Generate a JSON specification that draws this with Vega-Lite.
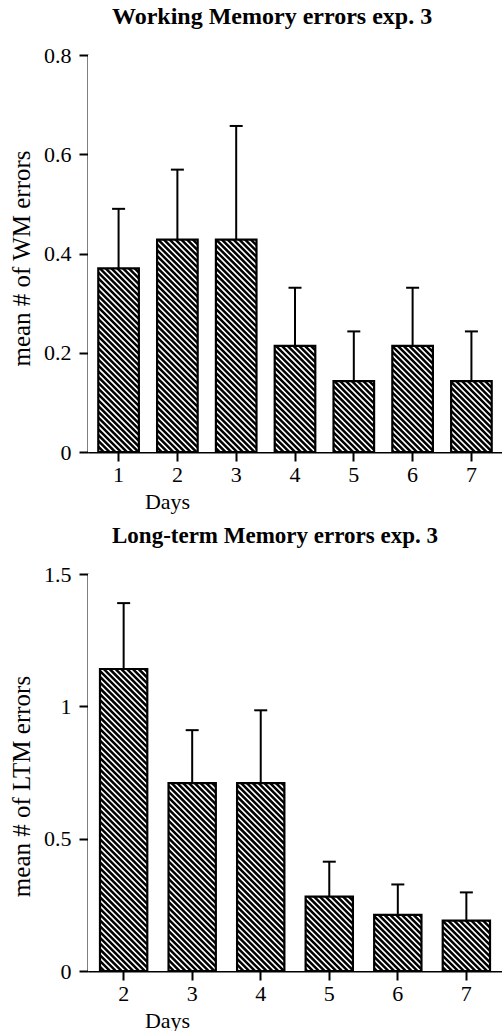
{
  "$schema": "https://vega.github.io/schema/vega-lite/v6.json",
  "background": "white",
  "padding": {"left": 9, "top": 5, "right": 0, "bottom": 0},
  "bounds": "flush",
  "spacing": 122,
  "config": {
    "font": "Liberation Serif",
    "view": {"stroke": null},
    "scale": {"bandPaddingInner": 0, "barBandPaddingInner": 0, "bandPaddingOuter": 0.02},
    "axis": {
      "domainColor": "black", "domainWidth": 2, "tickColor": "black", "tickWidth": 2, "tickSize": 9,
      "labelColor": "black", "labelFont": "Liberation Serif", "labelFontSize": 22,
      "titleColor": "black", "titleFont": "Liberation Serif", "titleFontSize": 22, "titleFontWeight": "normal",
      "grid": false
    },
    "axisY": {"labelPadding": 8, "titleAngle": 270, "titleBaseline": "alphabetic", "titleAlign": "center", "titleX": -59, "titleFontSize": 25},
    "axisX": {"labelAngle": 0, "labelPadding": 3, "titleBaseline": "alphabetic", "titleAlign": "center", "titleX": 79, "titleY": 56},
    "title": {"font": "Liberation Serif", "fontSize": 24, "fontWeight": "bold", "color": "black", "anchor": "start", "frame": "group", "dx": 24, "baseline": "alphabetic", "offset": 15},
    "point": {
      "shape": "M-3,-1l2,2m-1.9768,-2l2,2m-1.9768,-2l2,2m-1.9768,-2l2,2m-1.9768,-2l2,2m-1.9768,-2l2,2m-1.9768,-2l2,2m-1.9768,-2l2,2m-1.9768,-2l2,2m-1.9768,-2l2,2m-1.9768,-2l2,2m-1.9768,-2l2,2m-1.9768,-2l2,2m-1.9768,-2l2,2m-1.9768,-2l2,2m-1.9768,-2l2,2m-1.9768,-2l2,2m-1.9768,-2l2,2m-1.9768,-2l2,2m-1.9768,-2l2,2m-1.9768,-2l2,2m-1.9768,-2l2,2m-1.9768,-2l2,2m-1.9768,-2l2,2m-1.9768,-2l2,2m-1.9768,-2l2,2m-1.9768,-2l2,2m-1.9768,-2l2,2m-1.9768,-2l2,2m-1.9768,-2l2,2m-1.9768,-2l2,2m-1.9768,-2l2,2m-1.9768,-2l2,2m-1.9768,-2l2,2m-1.9768,-2l2,2m-1.9768,-2l2,2m-1.9768,-2l2,2m-1.9768,-2l2,2m-1.9768,-2l2,2m-1.9768,-2l2,2m-1.9768,-2l2,2m-1.9768,-2l2,2m-1.9768,-2l2,2m-1.9768,-2l2,2m-1.9768,-2l2,2m-1.9768,-2l2,2m-1.9768,-2l2,2m-1.9768,-2l2,2m-1.9768,-2l2,2m-1.9768,-2l2,2m-1.9768,-2l2,2m-1.9768,-2l2,2m-1.9768,-2l2,2m-1.9768,-2l2,2m-1.9768,-2l2,2m-1.9768,-2l2,2m-1.9768,-2l2,2m-1.9768,-2l2,2m-1.9768,-2l2,2m-1.9768,-2l2,2m-1.9768,-2l2,2m-1.9768,-2l2,2m-1.9768,-2l2,2m-1.9768,-2l2,2m-1.9768,-2l2,2m-1.9768,-2l2,2m-1.9768,-2l2,2m-1.9768,-2l2,2m-1.9768,-2l2,2m-1.9768,-2l2,2m-1.9768,-2l2,2m-1.9768,-2l2,2m-1.9768,-2l2,2m-1.9768,-2l2,2m-1.9768,-2l2,2m-1.9768,-2l2,2m-1.9768,-2l2,2m-1.9768,-2l2,2m-1.9768,-2l2,2m-1.9768,-2l2,2m-1.9768,-2l2,2m-1.9768,-2l2,2m-1.9768,-2l2,2m-1.9768,-2l2,2m-1.9768,-2l2,2m-1.9768,-2l2,2m-1.9768,-2l2,2m-1.9768,-2l2,2m-1.9768,-2l2,2m-1.9768,-2l2,2m-1.9768,-2l2,2m-1.9768,-2l2,2m-1.9768,-2l2,2m-1.9768,-2l2,2m-1.9768,-2l2,2m-1.9768,-2l2,2m-1.9768,-2l2,2m-1.9768,-2l2,2m-1.9768,-2l2,2m-1.9768,-2l2,2m-1.9768,-2l2,2m-1.9768,-2l2,2m-1.9768,-2l2,2m-1.9768,-2l2,2m-1.9768,-2l2,2m-1.9768,-2l2,2m-1.9768,-2l2,2m-1.9768,-2l2,2m-1.9768,-2l2,2m-1.9768,-2l2,2m-1.9768,-2l2,2m-1.9768,-2l2,2m-1.9768,-2l2,2m-1.9768,-2l2,2m-1.9768,-2l2,2m-1.9768,-2l2,2m-1.9768,-2l2,2m-1.9768,-2l2,2m-1.9768,-2l2,2m-1.9768,-2l2,2m-1.9768,-2l2,2m-1.9768,-2l2,2m-1.9768,-2l2,2m-1.9768,-2l2,2m-1.9768,-2l2,2m-1.9768,-2l2,2m-1.9768,-2l2,2m-1.9768,-2l2,2m-1.9768,-2l2,2m-1.9768,-2l2,2m-1.9768,-2l2,2m-1.9768,-2l2,2m-1.9768,-2l2,2m-1.9768,-2l2,2m-1.9768,-2l2,2m-1.9768,-2l2,2m-1.9768,-2l2,2m-1.9768,-2l2,2m-1.9768,-2l2,2m-1.9768,-2l2,2m-1.9768,-2l2,2m-1.9768,-2l2,2m-1.9768,-2l2,2m-1.9768,-2l2,2m-1.9768,-2l2,2m-1.9768,-2l2,2m-1.9768,-2l2,2m-1.9768,-2l2,2m-1.9768,-2l2,2m-1.9768,-2l2,2m-1.9768,-2l2,2m-1.9768,-2l2,2m-1.9768,-2l2,2m-1.9768,-2l2,2m-1.9768,-2l2,2m-1.9768,-2l2,2m-1.9768,-2l2,2m-1.9768,-2l2,2m-1.9768,-2l2,2m-1.9768,-2l2,2m-1.9768,-2l2,2m-1.9768,-2l2,2m-1.9768,-2l2,2m-1.9768,-2l2,2m-1.9768,-2l2,2m-1.9768,-2l2,2m-1.9768,-2l2,2m-1.9768,-2l2,2m-1.9768,-2l2,2m-1.9768,-2l2,2m-1.9768,-2l2,2m-1.9768,-2",
      "size": 250000, "filled": false, "stroke": "black", "strokeWidth": 2.5, "opacity": 1
    }
  },
  "datasets": {
    "wm": [
      {"day": 1, "mean": 0.37, "upper": 0.49},
      {"day": 2, "mean": 0.428, "upper": 0.569},
      {"day": 3, "mean": 0.428, "upper": 0.657},
      {"day": 4, "mean": 0.214, "upper": 0.331},
      {"day": 5, "mean": 0.143, "upper": 0.243},
      {"day": 6, "mean": 0.214, "upper": 0.331},
      {"day": 7, "mean": 0.143, "upper": 0.243}
    ],
    "ltm": [
      {"day": 2, "mean": 1.141, "upper": 1.39},
      {"day": 3, "mean": 0.71, "upper": 0.91},
      {"day": 4, "mean": 0.71, "upper": 0.985},
      {"day": 5, "mean": 0.281, "upper": 0.413},
      {"day": 6, "mean": 0.212, "upper": 0.327},
      {"day": 7, "mean": 0.19, "upper": 0.297}
    ]
  },
  "vconcat": [
    {
      "width": 414, "height": 397,
      "title": {"text": "Working Memory errors exp. 3"},
      "data": {"name": "wm"},
      "layer": [
        {
          "data": {"values": [{}]},
          "mark": {"type": "point", "clip": true, "filled": false, "stroke": "black", "strokeWidth": 2.5, "opacity": 1},
          "encoding": {
            "x": {"datum": 4, "type": "ordinal", "title": "Days"},
            "y": {"datum": 0.4, "type": "quantitative", "scale": {"domain": [0, 0.8], "nice": false}, "title": "mean # of WM errors"}
          }
        },
        {
          "mark": {"type": "bar", "width": {"band": 1}, "fill": "white", "strokeWidth": 0, "clip": true, "opacity": 1},
          "encoding": {
            "x": {"field": "day", "type": "ordinal", "title": "Days"},
            "y": {"field": "mean", "type": "quantitative", "scale": {"domain": [0, 0.8], "nice": false}, "title": "mean # of WM errors"},
            "y2": {"datum": 0.8}
          }
        },
        {
          "mark": {"type": "bar", "width": {"band": 1}, "fill": "white", "fillOpacity": 0, "stroke": "white", "strokeWidth": 18.4, "clip": true, "opacity": 1},
          "encoding": {
            "x": {"field": "day", "type": "ordinal", "title": "Days"},
            "y": {"datum": -0.2, "type": "quantitative", "scale": {"domain": [0, 0.8], "nice": false}, "title": "mean # of WM errors"},
            "y2": {"datum": 1.0}
          }
        },
        {
          "mark": {"type": "bar", "width": {"band": 0.69}, "fill": "white", "fillOpacity": 0, "stroke": "black", "strokeWidth": 2.2, "opacity": 1},
          "encoding": {
            "x": {"field": "day", "type": "ordinal", "title": "Days", "axis": {"labelAngle": 0}},
            "y": {"field": "mean", "type": "quantitative", "scale": {"domain": [0, 0.8], "nice": false}, "title": "mean # of WM errors",
                  "axis": {"values": [0, 0.2, 0.4, 0.6, 0.8], "format": ".1~f", "titleY": 203}}
          }
        },
        {
          "mark": {"type": "rule", "color": "black", "strokeWidth": 2, "opacity": 1},
          "encoding": {
            "x": {"field": "day", "type": "ordinal", "title": "Days"},
            "y": {"field": "mean", "type": "quantitative", "scale": {"domain": [0, 0.8], "nice": false}, "title": "mean # of WM errors"},
            "y2": {"field": "upper"}
          }
        },
        {
          "mark": {"type": "tick", "color": "black", "size": 13, "thickness": 2, "opacity": 1},
          "encoding": {
            "x": {"field": "day", "type": "ordinal", "title": "Days"},
            "y": {"field": "upper", "type": "quantitative", "scale": {"domain": [0, 0.8], "nice": false}, "title": "mean # of WM errors"}
          }
        }
      ]
    },
    {
      "width": 414, "height": 397,
      "title": {"text": "Long-term Memory errors exp. 3", "fontSize": 23},
      "data": {"name": "ltm"},
      "layer": [
        {
          "data": {"values": [{}]},
          "mark": {"type": "point", "clip": true, "filled": false, "stroke": "black", "strokeWidth": 2.5, "opacity": 1},
          "encoding": {
            "x": {"datum": 4, "type": "ordinal", "title": "Days"},
            "y": {"datum": 0.75, "type": "quantitative", "scale": {"domain": [0, 1.5], "nice": false}, "title": "mean # of LTM errors"}
          }
        },
        {
          "mark": {"type": "bar", "width": {"band": 1}, "fill": "white", "strokeWidth": 0, "clip": true, "opacity": 1},
          "encoding": {
            "x": {"field": "day", "type": "ordinal", "title": "Days"},
            "y": {"field": "mean", "type": "quantitative", "scale": {"domain": [0, 1.5], "nice": false}, "title": "mean # of LTM errors"},
            "y2": {"datum": 1.5}
          }
        },
        {
          "mark": {"type": "bar", "width": {"band": 1}, "fill": "white", "fillOpacity": 0, "stroke": "white", "strokeWidth": 21.4, "clip": true, "opacity": 1},
          "encoding": {
            "x": {"field": "day", "type": "ordinal", "title": "Days"},
            "y": {"datum": -0.3, "type": "quantitative", "scale": {"domain": [0, 1.5], "nice": false}, "title": "mean # of LTM errors"},
            "y2": {"datum": 1.8}
          }
        },
        {
          "mark": {"type": "bar", "width": {"band": 0.69}, "fill": "white", "fillOpacity": 0, "stroke": "black", "strokeWidth": 2.2, "opacity": 1},
          "encoding": {
            "x": {"field": "day", "type": "ordinal", "title": "Days", "axis": {"labelAngle": 0}},
            "y": {"field": "mean", "type": "quantitative", "scale": {"domain": [0, 1.5], "nice": false}, "title": "mean # of LTM errors",
                  "axis": {"values": [0, 0.5, 1, 1.5], "format": ".1~f", "titleY": 212}}
          }
        },
        {
          "mark": {"type": "rule", "color": "black", "strokeWidth": 2, "opacity": 1},
          "encoding": {
            "x": {"field": "day", "type": "ordinal", "title": "Days"},
            "y": {"field": "mean", "type": "quantitative", "scale": {"domain": [0, 1.5], "nice": false}, "title": "mean # of LTM errors"},
            "y2": {"field": "upper"}
          }
        },
        {
          "mark": {"type": "tick", "color": "black", "size": 13, "thickness": 2, "opacity": 1},
          "encoding": {
            "x": {"field": "day", "type": "ordinal", "title": "Days"},
            "y": {"field": "upper", "type": "quantitative", "scale": {"domain": [0, 1.5], "nice": false}, "title": "mean # of LTM errors"}
          }
        }
      ]
    }
  ]
}
